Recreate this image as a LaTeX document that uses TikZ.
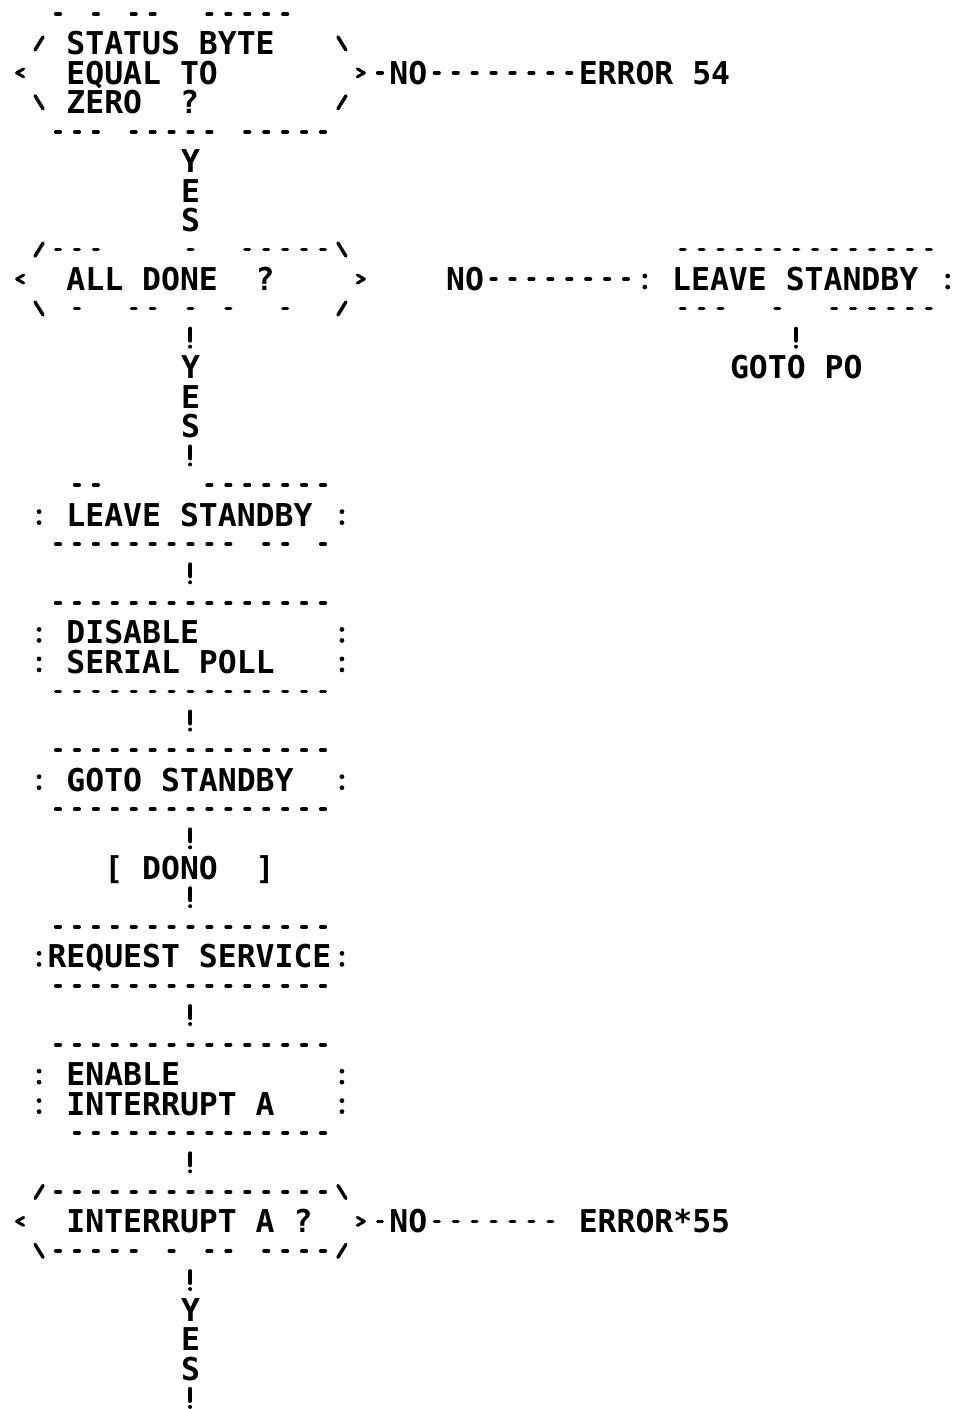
\documentclass[tikz,border=0pt]{standalone}
\usepackage{fontspec}
\newfontfamily\plotfont{DejaVu Sans Mono}
\newcommand\fixsp{\fontdimen2\font=18.93pt\fontdimen3\font=0pt\fontdimen4\font=0pt\fontdimen7\font=0pt\spaceskip=18.93pt\xspaceskip=18.93pt}
\newcommand\hyrow[2]{\foreach \c in {#2} {\draw[hyd] (\c-0.119,#1) -- (\c+0.119,#1);}}
\newcommand\colonmk[2]{\fill ([yshift=3pt]#1,#2) circle (2.4pt); \fill ([yshift=-8pt]#1,#2) circle (2.4pt);}
\newcommand\mkfsl[2]{\draw[slash] ([xshift=-4pt,yshift=-6.5pt]#1,#2) -- ([xshift=4pt,yshift=6.5pt]#1,#2);}
\newcommand\mkbsl[2]{\draw[slash] ([xshift=-4pt,yshift=6.5pt]#1,#2) -- ([xshift=4pt,yshift=-6.5pt]#1,#2);}
\newcommand\mklt[2]{\draw[chev] ([xshift=3.5pt,yshift=4pt]#1,#2) -- ([xshift=-3.5pt]#1,#2) -- ([xshift=3.5pt,yshift=-4pt]#1,#2);}
\newcommand\mkgt[2]{\draw[chev] ([xshift=-3.5pt,yshift=4pt]#1,#2) -- ([xshift=3.5pt]#1,#2) -- ([xshift=-3.5pt,yshift=-4pt]#1,#2);}
\begin{document}
\begin{tikzpicture}[x=18.93pt,y=-29.45pt,
  every node/.style={font=\plotfont\bfseries\fontsize{31.44pt}{29.45pt}\selectfont\fixsp,
    text height=22.92pt, text depth=0pt, inner sep=0pt},
  hyd/.style={line width=3.6pt, line cap=round},
  slash/.style={line width=3.4pt, line cap=round},
  chev/.style={line width=3pt, line cap=round, line join=round},
  boxnode/.style={rectangle, inner ysep=0pt},
  hyline/.style={line width=3.6pt, line cap=round, dash pattern=on 4.5pt off 14.43pt},
  bang/.style={line width=4pt, line cap=round, dash pattern=on 12pt off 6pt on 0.01pt off 11.44pt},
  yesl/.style={fill=white, text width=20.93pt, align=center, text depth=58.9pt, inner ysep=3pt, inner xsep=3pt},
  nolab/.style={fill=white}
]
\useasboundingbox (-0.0634,-0.475) rectangle (50.65,47.37);
\fill[white] (-0.0634,-0.475) rectangle (50.65,47.37);

% ---- decision: STATUS BYTE EQUAL TO ZERO ?
\node[boxnode, text width=248.09pt, inner xsep=46.325pt, minimum height=117.8pt, text depth=58.9pt] (d1) at (10,2) {\fixsp STATUS BYTE\\EQUAL TO\\ZERO~~?};
\hyrow{0}{3,5,7,8,11,12,13,14,15}
\mkfsl{2}{1} \mkbsl{18}{1}
\mklt{1}{2} \mkgt{19}{2}
\mkbsl{2}{3} \mkfsl{18}{3}
\hyrow{4}{3,4,5,7,8,9,10,11,13,14,15,16,17}
\node[anchor=west] (e54) at (30.5,2) {ERROR 54};
\draw[hyline, shorten <=16.68pt, shorten >=7pt] (d1.east) -- node[pos=0.2174, nolab]{NO} (e54.west);

% ---- decision: ALL DONE ?
\node[boxnode, text width=248.09pt, inner xsep=46.325pt, minimum height=58.9pt] (d2) at (10,9) {\fixsp ALL DONE~~?};
\mkfsl{2}{8} \hyrow{8}{3,4,5,10,13,14,15,16,17} \mkbsl{18}{8}
\mklt{1}{9} \mkgt{19}{9}
\mkbsl{2}{10} \hyrow{10}{4,7,8,10,12,15} \mkfsl{18}{10}
\path (d1.south) -- node[yesl, fill=none]{Y\\E\\S} (d2.north);

% ---- right branch: LEAVE STANDBY, GOTO PO
\node[boxnode, text width=248.09pt, inner xsep=27.395pt, minimum height=58.9pt] (lsR) at (42,9) {\fixsp LEAVE STANDBY};
\hyrow{8}{36,37,38,39,40,41,42,43,44,45,46,47,48,49}
\colonmk{34}{9} \colonmk{50}{9}
\hyrow{10}{36,37,38,41,44,45,46,47,48,49}
\draw[hyline, shorten <=130.26pt, shorten >=16.47pt] (d2.east) -- node[pos=0.3667]{NO} (lsR.west);
\node[minimum height=29.45pt] (gp) at (42,12) {GOTO PO};
\draw[bang, shorten <=20pt, shorten >=1.7pt] (lsR.south) -- (gp.north);

% ---- LEAVE STANDBY
\node[boxnode, text width=248.09pt, inner xsep=27.395pt, minimum height=58.9pt] (ls) at (10,17) {\fixsp LEAVE STANDBY};
\hyrow{16}{4,5,11,12,13,14,15,16,17}
\colonmk{2}{17} \colonmk{18}{17}
\hyrow{18}{3,4,5,6,7,8,9,10,11,12,14,15,17}
\draw[bang, shorten <=20pt, shorten >=16.45pt] (d2.south) -- node[yesl]{Y\\E\\S} (ls.north);

% ---- DISABLE SERIAL POLL
\node[boxnode, text width=248.09pt, inner xsep=27.395pt, minimum height=88.35pt, text depth=29.45pt] (dsp) at (10,21.5) {\fixsp DISABLE\\SERIAL POLL};
\hyrow{20}{3,4,5,6,7,8,9,10,11,12,13,14,15,16,17}
\colonmk{2}{21} \colonmk{18}{21} \colonmk{2}{22} \colonmk{18}{22}
\hyrow{23}{3,4,5,6,7,8,9,10,11,12,13,14,15,16,17}
\draw[bang, shorten <=20pt, shorten >=16.45pt] (ls.south) -- (dsp.north);

% ---- GOTO STANDBY
\node[boxnode, text width=248.09pt, inner xsep=27.395pt, minimum height=58.9pt] (gsb) at (10,26) {\fixsp GOTO STANDBY};
\hyrow{25}{3,4,5,6,7,8,9,10,11,12,13,14,15,16,17}
\colonmk{2}{26} \colonmk{18}{26}
\hyrow{27}{3,4,5,6,7,8,9,10,11,12,13,14,15,16,17}
\draw[bang, shorten <=20pt, shorten >=16.45pt] (dsp.south) -- (gsb.north);

% ---- [ DONO ]
\node[text width=172.37pt, minimum height=29.45pt] (dono) at (10,29) {\fixsp [ DONO~~]};
\draw[bang, shorten <=20pt, shorten >=1.7pt] (gsb.south) -- (dono.north);

% ---- REQUEST SERVICE
\node[boxnode, text width=285.95pt, inner xsep=8.465pt, minimum height=58.9pt] (rqs) at (10,32) {\fixsp REQUEST SERVICE};
\hyrow{31}{3,4,5,6,7,8,9,10,11,12,13,14,15,16,17}
\colonmk{2}{32} \colonmk{18}{32}
\hyrow{33}{3,4,5,6,7,8,9,10,11,12,13,14,15,16,17}
\draw[bang, shorten <=5.27pt, shorten >=16.45pt] (dono.south) -- (rqs.north);

% ---- ENABLE INTERRUPT A
\node[boxnode, text width=248.09pt, inner xsep=27.395pt, minimum height=88.35pt, text depth=29.45pt] (eia) at (10,36.5) {\fixsp ENABLE\\INTERRUPT A};
\hyrow{35}{3,4,5,6,7,8,9,10,11,12,13,14,15,16,17}
\colonmk{2}{36} \colonmk{18}{36} \colonmk{2}{37} \colonmk{18}{37}
\hyrow{38}{4,5,6,7,8,9,10,11,12,13,14,15,16,17}
\draw[bang, shorten <=20pt, shorten >=16.45pt] (rqs.south) -- (eia.north);

% ---- decision: INTERRUPT A ?
\node[boxnode, text width=248.09pt, inner xsep=46.325pt, minimum height=58.9pt] (d3) at (10,41) {\fixsp INTERRUPT A ?};
\mkfsl{2}{40} \hyrow{40}{3,4,5,6,7,8,9,10,11,12,13,14,15,16,17} \mkbsl{18}{40}
\mklt{1}{41} \mkgt{19}{41}
\mkbsl{2}{42} \hyrow{42}{3,4,5,6,7,9,11,12,14,15,16,17} \mkfsl{18}{42}
\draw[bang, shorten <=20pt, shorten >=16.45pt] (eia.south) -- (d3.north);
\node[anchor=west] (e55) at (30.5,41) {ERROR*55};
\draw[hyline, shorten <=16.68pt, shorten >=25.9pt] (d3.east) -- node[pos=0.2174, nolab]{NO} (e55.west);
\coordinate (end) at (10,48);
\draw[bang, shorten <=20pt, shorten >=16.45pt] (d3.south) -- node[yesl]{Y\\E\\S} (end);
\end{tikzpicture}
\end{document}
